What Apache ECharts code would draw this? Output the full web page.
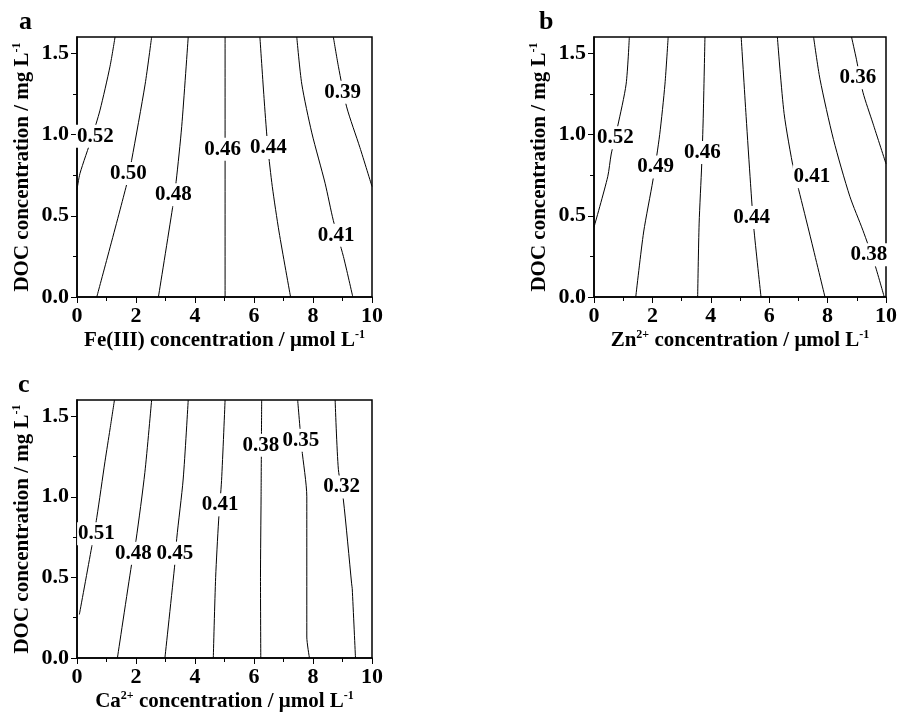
<!DOCTYPE html>
<html>
<head>
<meta charset="utf-8">
<title>Contour plots of DOC vs metal ion concentration</title>
<script src="https://cdn.jsdelivr.net/npm/echarts@6/dist/echarts.min.js"></script>
<style>
  html, body { margin: 0; padding: 0; background: #fff; }
  #chart { width: 900px; height: 715px; }
</style>
</head>
<body>
<div id="chart"></div>
<script>
// Axis ticks (shared by all three panels)
const xTickValues = [0, 2, 4, 6, 8, 10];
const yLabelValues = [0, 0.5, 1.0, 1.5];
const yMinorValues = [0, 0.25, 0.5, 0.75, 1.0, 1.25, 1.5];

// Panel a: Fe(III) — contour lines as [Fe(III), DOC] points
const fe052 = [[0, 0.66], [0.1, 0.76], [0.5, 0.98], [0.78, 1.15], [1.12, 1.42], [1.29, 1.6]];
const fe050 = [[0.67, 0], [1.68, 0.69], [1.85, 0.84], [2.31, 1.31], [2.53, 1.6]];
const fe048 = [[2.76, 0], [3.24, 0.55], [3.36, 0.71], [3.55, 1.05], [3.77, 1.6]];
const fe046 = [[5.02, 0], [5.02, 1.6]];
const fe044 = [[6.2, 1.6], [6.35, 1.2], [6.47, 0.92], [6.62, 0.68], [6.85, 0.4], [7.24, 0]];
const fe041 = [[7.45, 1.6], [7.62, 1.31], [7.96, 1.01], [8.41, 0.7], [8.69, 0.47], [9.03, 0.25], [9.35, 0]];
const fe039 = [[8.69, 1.6], [8.86, 1.42], [9.14, 1.17], [9.59, 0.92], [10, 0.68]];
const feLabels = [[0.62, 0.99, '0.52'], [1.74, 0.76, '0.50'], [3.27, 0.63, '0.48'], [4.94, 0.91, '0.46'],
                  [6.49, 0.92, '0.44'], [8.78, 0.38, '0.41'], [9.0, 1.26, '0.39']];

// Panel b: Zn2+
const zn052 = [[0, 0.43], [0.47, 0.74], [0.59, 0.88], [0.81, 1.05], [1.1, 1.31], [1.21, 1.6]];
const zn049 = [[1.43, 0], [1.7, 0.4], [2.02, 0.72], [2.25, 1.0], [2.43, 1.31], [2.54, 1.6]];
const zn046 = [[3.55, 0], [3.6, 0.45], [3.69, 0.82], [3.74, 1.1], [3.8, 1.6]];
const zn044 = [[5.04, 1.6], [5.21, 1.11], [5.36, 0.7], [5.47, 0.43], [5.72, 0]];
const zn041 = [[6.28, 1.6], [6.51, 1.13], [6.84, 0.78], [7.01, 0.66], [7.41, 0.37], [7.91, 0]];
const zn038 = [[7.52, 1.6], [7.74, 1.34], [8.2, 0.97], [8.76, 0.62], [9.21, 0.41], [9.6, 0.21], [9.94, 0]];
const zn036 = [[8.82, 1.6], [8.99, 1.46], [9.21, 1.26], [9.55, 1.07], [10, 0.82]];
const znLabels = [[0.73, 0.98, '0.52'], [2.11, 0.80, '0.49'], [3.71, 0.89, '0.46'], [5.4, 0.49, '0.44'],
                  [7.46, 0.74, '0.41'], [9.41, 0.26, '0.38'], [9.04, 1.35, '0.36']];

// Panel c: Ca2+
const ca051 = [[0.08, 0.27], [0.5, 0.69], [0.67, 0.87], [0.95, 1.22], [1.12, 1.42], [1.27, 1.6]];
const ca048 = [[1.37, 0], [1.85, 0.58], [2.0, 0.73], [2.3, 1.15], [2.53, 1.6]];
const ca045 = [[2.98, 0], [3.32, 0.59], [3.38, 0.74], [3.6, 1.11], [3.77, 1.6]];
const ca041 = [[4.62, 0], [4.7, 0.5], [4.8, 0.85], [4.9, 1.1], [5.02, 1.6]];
const ca038 = [[6.23, 0], [6.22, 0.5], [6.24, 1.0], [6.26, 1.6]];
const ca035 = [[7.48, 1.6], [7.62, 1.3], [7.79, 1.0], [7.79, 0.13], [7.88, 0]];
const ca032 = [[8.75, 1.6], [8.86, 1.17], [9.03, 0.98], [9.31, 0.46], [9.33, 0.43], [9.44, 0]];
const caLabels = [[0.66, 0.77, '0.51'], [1.91, 0.65, '0.48'], [3.32, 0.65, '0.45'], [4.85, 0.95, '0.41'],
                  [6.23, 1.32, '0.38'], [7.59, 1.35, '0.35'], [8.97, 1.06, '0.32']];

const FONT = '"Liberation Serif", "Times New Roman", serif';

const panels = [
  { letter: 'a', grid: { left: 77, top: 37, width: 295, height: 260 },
    xName: '{t|Fe(III) concentration / μmol L}{s|-1}',
    lines: [fe052, fe050, fe048, fe046, fe044, fe041, fe039], labels: feLabels,
    letterPos: { left: 19, top: 9 } },
  { letter: 'b', grid: { left: 594, top: 37, width: 296, height: 260 },
    xName: '{t|Zn}{s|2+}{t| concentration / μmol L}{s|-1}',
    lines: [zn052, zn049, zn046, zn044, zn041, zn038, zn036], labels: znLabels,
    letterPos: { left: 539, top: 9 } },
  { letter: 'c', grid: { left: 77, top: 400, width: 295, height: 258 },
    xName: '{t|Ca}{s|2+}{t| concentration / μmol L}{s|-1}',
    lines: [ca051, ca048, ca045, ca041, ca038, ca035, ca032], labels: caLabels,
    letterPos: { left: 18, top: 372 } }
];

const nameRich = {
  t: { fontFamily: FONT, fontWeight: 'bold', fontSize: 21, color: '#000', lineHeight: 24 },
  s: { fontFamily: FONT, fontWeight: 'bold', fontSize: 12, color: '#000', verticalAlign: 'top', lineHeight: 12 }
};
const tickLabel = { fontFamily: FONT, fontWeight: 'bold', fontSize: 22, color: '#000' };

const grids = [], xAxes = [], yAxes = [], series = [], graphics = [];

panels.forEach((p, g) => {
  grids.push(Object.assign({ show: true, borderColor: '#000', borderWidth: 1.5, backgroundColor: 'transparent' }, p.grid));

  xAxes.push({
    type: 'value', gridIndex: g, min: 0, max: 10, interval: 2,
    name: p.xName, nameLocation: 'middle', nameGap: 32,
    nameTextStyle: { rich: nameRich },
    axisLine: { show: true, lineStyle: { color: '#000', width: 1.5 } },
    axisTick: { show: true, length: 6, lineStyle: { color: '#000', width: 1 } },
    minorTick: { show: true, splitNumber: 2, length: 4, lineStyle: { color: '#000', width: 1 } },
    axisLabel: Object.assign({ margin: 8, customValues: xTickValues }, tickLabel),
    splitLine: { show: false }
  });

  // main DOC axis: labels and minor ticks
  yAxes.push({
    type: 'value', gridIndex: g, min: 0, max: 1.6,
    name: '{t|DOC concentration / mg L}{s|-1}', nameLocation: 'middle', nameGap: 42,
    nameTextStyle: { rich: nameRich },
    axisLine: { show: true, lineStyle: { color: '#000', width: 1.5 } },
    axisTick: { show: true, length: 4, customValues: yMinorValues, lineStyle: { color: '#000', width: 1 } },
    axisLabel: Object.assign({ margin: 8, customValues: yLabelValues, formatter: v => v.toFixed(1) }, tickLabel),
    splitLine: { show: false }
  });
  // overlay axis carrying the longer major ticks
  yAxes.push({
    type: 'value', gridIndex: g, min: 0, max: 1.6, position: 'left',
    axisLine: { show: false },
    axisTick: { show: true, length: 6, customValues: yLabelValues, lineStyle: { color: '#000', width: 1 } },
    axisLabel: { show: false },
    splitLine: { show: false }
  });

  p.lines.forEach(line => {
    series.push({
      type: 'line', xAxisIndex: g, yAxisIndex: g * 2, data: line,
      symbol: 'none', smooth: 0.25, silent: true, z: 2,
      lineStyle: { color: '#000', width: 1 }
    });
  });

  series.push({
    type: 'scatter', xAxisIndex: g, yAxisIndex: g * 2, silent: true, z: 5,
    symbolSize: 1, itemStyle: { color: 'transparent', opacity: 1 },
    data: p.labels.map(l => ({ name: l[2], value: [l[0], l[1]] })),
    label: {
      show: true, position: 'inside', formatter: '{b}', opacity: 1,
      fontFamily: FONT, fontWeight: 'bold', fontSize: 21, color: '#000',
      backgroundColor: '#fff', padding: [2, 1, 0, 1]
    }
  });

  graphics.push({
    type: 'text', left: p.letterPos.left, top: p.letterPos.top, silent: true,
    style: { text: p.letter, font: 'bold 26px ' + FONT, fill: '#000' }
  });
});

const chart = echarts.init(document.getElementById('chart'), null, { renderer: 'canvas' });
chart.setOption({
  animation: false,
  backgroundColor: '#fff',
  grid: grids,
  xAxis: xAxes,
  yAxis: yAxes,
  series: series,
  graphic: graphics
});
</script>
</body>
</html>
